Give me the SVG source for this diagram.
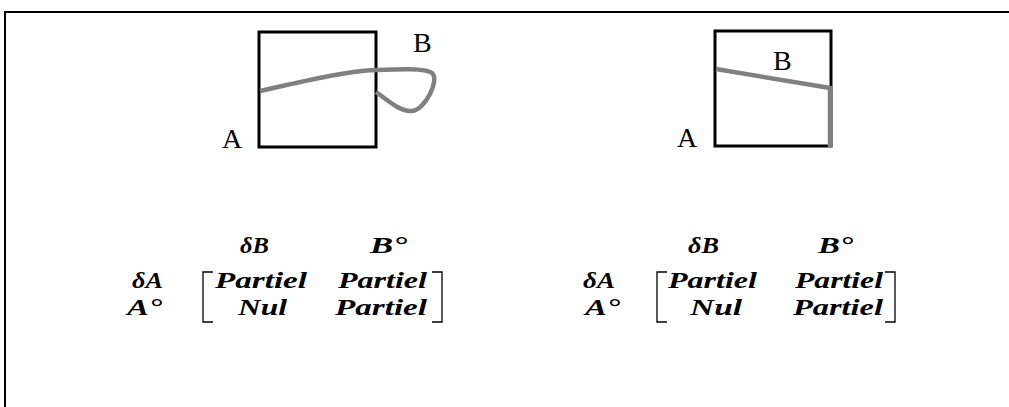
<svg xmlns="http://www.w3.org/2000/svg" width="1009" height="407" viewBox="0 0 1009 407">
<style>
.frame{fill:none;stroke:#000;stroke-width:2}
.box{fill:none;stroke:#000;stroke-width:3}
.curve{fill:none;stroke:#808080;stroke-width:4.5;stroke-linecap:butt;stroke-linejoin:miter}
.lbl{font-family:"Liberation Serif","Times New Roman",serif;font-size:28px;fill:#000}
.m{font-family:"Liberation Serif","Times New Roman",serif;font-size:23.5px;font-weight:bold;font-style:italic;fill:#000}
.br{fill:none;stroke:#000;stroke-width:1.3}
</style>
<path class="frame" d="M5,520 V12 H1100"/>
<g id="left-figure">
  <rect class="box" x="259" y="32" width="117" height="115"/>
  <path class="curve" d="M260,91 C300,82 345,71 377,70 C400,69 425,68 432,73 C440,80 425,110 412,111 C400,112 386,99 376,92"/>
  <text class="lbl" x="413" y="52">B</text>
  <text class="lbl" x="222" y="148">A</text>
</g>
<g id="right-figure">
  <rect class="box" x="715" y="31" width="116" height="115"/>
  <path class="curve" d="M716,69 L830,88 L830,147"/>
  <text class="lbl" x="773" y="70">B</text>
  <text class="lbl" x="677" y="147">A</text>
</g>
<g id="left-matrix">
  <text class="m" x="240" y="253" textLength="29" lengthAdjust="spacingAndGlyphs">δB</text>
  <text class="m" x="370" y="253" textLength="37" lengthAdjust="spacingAndGlyphs">B°</text>
  <text class="m" x="132" y="288" textLength="31" lengthAdjust="spacingAndGlyphs">δA</text>
  <text class="m" x="127" y="315" textLength="35" lengthAdjust="spacingAndGlyphs">A°</text>
  <path class="br" d="M213,272 H203 V322 H213"/>
  <path class="br" d="M432,272 H442 V322 H432"/>
  <text class="m" x="215" y="288" textLength="92" lengthAdjust="spacingAndGlyphs">Partiel</text>
  <text class="m" x="338" y="288" textLength="89" lengthAdjust="spacingAndGlyphs">Partiel</text>
  <text class="m" x="238" y="315" textLength="49" lengthAdjust="spacingAndGlyphs">Nul</text>
  <text class="m" x="335" y="315" textLength="92" lengthAdjust="spacingAndGlyphs">Partiel</text>
</g>
<g id="right-matrix">
  <text class="m" x="688" y="253" textLength="31" lengthAdjust="spacingAndGlyphs">δB</text>
  <text class="m" x="818" y="253" textLength="35" lengthAdjust="spacingAndGlyphs">B°</text>
  <text class="m" x="583" y="288" textLength="32" lengthAdjust="spacingAndGlyphs">δA</text>
  <text class="m" x="585" y="315" textLength="35" lengthAdjust="spacingAndGlyphs">A°</text>
  <path class="br" d="M667,272 H657 V322 H667"/>
  <path class="br" d="M885,272 H895 V322 H885"/>
  <text class="m" x="668" y="288" textLength="89" lengthAdjust="spacingAndGlyphs">Partiel</text>
  <text class="m" x="795" y="288" textLength="88" lengthAdjust="spacingAndGlyphs">Partiel</text>
  <text class="m" x="690" y="315" textLength="52" lengthAdjust="spacingAndGlyphs">Nul</text>
  <text class="m" x="793" y="315" textLength="90" lengthAdjust="spacingAndGlyphs">Partiel</text>
</g>
</svg>
